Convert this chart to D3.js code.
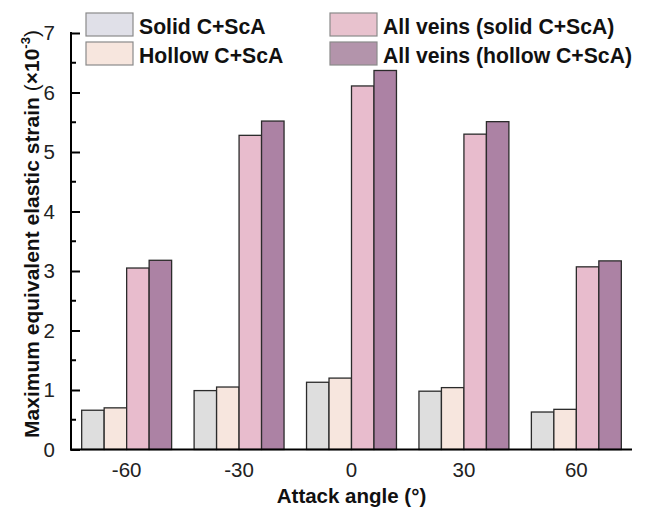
<!DOCTYPE html>
<html><head><meta charset="utf-8">
<script src="https://cdn.jsdelivr.net/npm/d3@7"></script>
<style>body{margin:0;background:#fff;} svg{display:block;font-family:"Liberation Sans",Arial,sans-serif;}</style>
</head><body>
<svg id="c" width="650" height="511"></svg>
<script>
const categories = ["-60", "-30", "0", "30", "60"];
const seriesNames = ["Solid C+ScA", "Hollow C+ScA", "All veins (solid C+ScA)", "All veins (hollow C+ScA)"];
const solid = [0.66, 0.99, 1.13, 0.98, 0.63];
const hollow = [0.70, 1.05, 1.20, 1.04, 0.675];
const allSolid = [3.05, 5.28, 6.11, 5.30, 3.07];
const allHollow = [3.18, 5.52, 6.37, 5.51, 3.17];
const yTicks = [0, 1, 2, 3, 4, 5, 6, 7];
const colors = ["#dedede", "#f7e6de", "#e8bccd", "#ac82a4"];
const legendColors = ["#e0e0e8", "#f7e6de", "#e8c2ce", "#b394ab"];

const series = [solid, hollow, allSolid, allHollow];
const svg = d3.select("#c");
const mLeft = 71, mRight = 632, mTop = 33, mBottom = 449.5;

const x = d3.scaleBand().domain(categories).range([mLeft, mRight]).paddingInner(0.2).paddingOuter(0.095);
const xs = d3.scaleBand().domain(d3.range(4)).range([0, x.bandwidth()]);
const y = d3.scaleLinear().domain([0, 7]).range([mBottom, mTop]);

// bars
categories.forEach((c, i) => {
  series.forEach((s, k) => {
    svg.append("rect")
      .attr("x", x(c) + xs(k))
      .attr("y", y(s[i]))
      .attr("width", xs.bandwidth())
      .attr("height", y(0) - y(s[i]))
      .attr("fill", colors[k])
      .attr("stroke", "#2b2b2b")
      .attr("stroke-width", 1.3);
  });
});

// y axis
const yAxis = d3.axisLeft(y).tickValues(yTicks).tickSize(-9).tickPadding(16).tickFormat(d3.format("d"));
const gy = svg.append("g").attr("transform", `translate(${mLeft},0)`).call(yAxis);
gy.select(".domain").remove();
gy.selectAll(".tick line").attr("stroke", "#000").attr("stroke-width", 2);
gy.selectAll(".tick text").attr("font-size", 20.5).attr("fill", "#222").attr("font-family", "Liberation Sans, Arial, sans-serif");
// minor ticks
const minors = d3.range(0.5, 7, 1);
svg.append("g").selectAll("line").data(minors).join("line")
  .attr("x1", mLeft).attr("x2", mLeft + 5)
  .attr("y1", d => y(d)).attr("y2", d => y(d))
  .attr("stroke", "#000").attr("stroke-width", 2);
svg.append("line").attr("x1", mLeft).attr("x2", mLeft).attr("y1", mTop - 1).attr("y2", mBottom + 1)
  .attr("stroke", "#000").attr("stroke-width", 2);

// x axis
const xAxis = d3.axisBottom(x).tickSize(0).tickPadding(13);
const gx = svg.append("g").attr("transform", `translate(0,${mBottom})`).call(xAxis);
gx.select(".domain").remove();
gx.selectAll(".tick text").attr("font-size", 20.5).attr("fill", "#222").attr("font-family", "Liberation Sans, Arial, sans-serif");
svg.append("line").attr("x1", mLeft - 1).attr("x2", mRight).attr("y1", mBottom).attr("y2", mBottom)
  .attr("stroke", "#000").attr("stroke-width", 2);

// axis titles
svg.append("text").attr("x", (mLeft + mRight) / 2).attr("y", 503).attr("text-anchor", "middle")
  .attr("font-size", 20.5).attr("font-weight", "bold").attr("fill", "#111").text("Attack angle (°)");
const yl = svg.append("text").attr("transform", "translate(39,234) rotate(-90)").attr("text-anchor", "middle")
  .attr("font-size", 21).attr("font-weight", "bold").attr("fill", "#111");
yl.append("tspan").text("Maximum equivalent elastic strain ");
yl.append("tspan").attr("font-weight", "normal").text("(");
yl.append("tspan").text("×10");
yl.append("tspan").attr("font-size", 13).attr("dy", -9).text("-3");
yl.append("tspan").attr("font-weight", "normal").attr("dy", 9).text(")");

// legend
const legPos = [[86, 13], [86, 42], [330, 13], [330, 42]];
seriesNames.forEach((n, k) => {
  const [lx, ly] = legPos[k];
  svg.append("rect").attr("x", lx).attr("y", ly).attr("width", 47).attr("height", 23)
    .attr("fill", legendColors[k]).attr("stroke", "#8a8a8a").attr("stroke-width", 1.2);
  svg.append("text").attr("x", lx + 53).attr("y", ly + 20.5).attr("font-size", 21.2)
    .attr("font-weight", "bold").attr("fill", "#111").text(n);
});
</script>
</body></html>
